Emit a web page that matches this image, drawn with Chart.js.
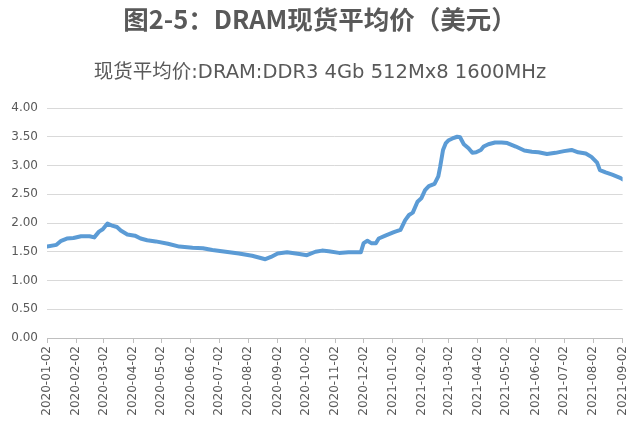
<!DOCTYPE html>
<html>
<head>
<meta charset="utf-8">
<script src="https://cdn.jsdelivr.net/npm/chart.js@4.4.1/dist/chart.umd.min.js"></script>
<style>
  html, body { margin: 0; padding: 0; background: #ffffff; }
  #wrap { width: 640px; height: 425px; position: relative; }
</style>
</head>
<body>
<div id="wrap"><canvas id="c" width="640" height="425"></canvas></div>
<script>
const chartTitle = '图2-5：DRAM现货平均价（美元）';
const seriesName = '现货平均价:DRAM:DDR3 4Gb 512Mx8 1600MHz';

const dates = [
  '2020-01-02','2020-01-12','2020-01-17','2020-01-23','2020-01-30','2020-02-07','2020-02-16','2020-02-21','2020-02-26','2020-03-01',
  '2020-03-06','2020-03-10','2020-03-16','2020-03-20','2020-03-27','2020-04-04','2020-04-10','2020-04-17','2020-04-26','2020-05-09',
  '2020-05-21','2020-06-04','2020-06-15','2020-06-25','2020-07-09','2020-07-23','2020-08-06','2020-08-13','2020-08-20','2020-08-26',
  '2020-09-02','2020-09-12','2020-09-25','2020-10-03','2020-10-12','2020-10-19','2020-10-26','2020-11-06','2020-11-16','2020-11-29',
  '2020-12-02','2020-12-06','2020-12-10','2020-12-15','2020-12-18','2020-12-25','2021-01-03','2021-01-10','2021-01-15','2021-01-19',
  '2021-01-23','2021-01-28','2021-02-01','2021-02-05','2021-02-09','2021-02-15','2021-02-19','2021-02-21','2021-02-24','2021-02-27',
  '2021-03-02','2021-03-06','2021-03-11','2021-03-14','2021-03-18','2021-03-23','2021-03-27','2021-03-31','2021-04-05','2021-04-08',
  '2021-04-13','2021-04-20','2021-04-27','2021-05-03','2021-05-12','2021-05-21','2021-05-29','2021-06-05','2021-06-14','2021-06-23',
  '2021-07-02','2021-07-10','2021-07-17','2021-07-25','2021-07-31','2021-08-06','2021-08-09','2021-08-15','2021-08-22','2021-08-31',
  '2021-09-02'
];
const prices = [
  1.59,1.62,1.69,1.73,1.74,1.77,1.77,1.75,1.85,1.89,
  1.99,1.96,1.93,1.87,1.80,1.78,1.73,1.70,1.68,1.64,
  1.59,1.57,1.56,1.53,1.50,1.47,1.43,1.40,1.37,1.41,
  1.47,1.49,1.46,1.44,1.50,1.52,1.51,1.48,1.49,1.49,
  1.65,1.69,1.65,1.65,1.73,1.78,1.84,1.88,2.05,2.14,
  2.18,2.37,2.43,2.57,2.64,2.68,2.81,2.98,3.27,3.39,
  3.44,3.47,3.50,3.49,3.37,3.30,3.22,3.23,3.27,3.33,
  3.37,3.40,3.40,3.39,3.33,3.26,3.24,3.23,3.20,3.22,
  3.25,3.27,3.23,3.21,3.15,3.05,2.92,2.88,2.84,2.78,
  2.76
];
const tickLabels = [
  '2020-01-02','2020-02-02','2020-03-02','2020-04-02','2020-05-02','2020-06-02','2020-07-02',
  '2020-08-02','2020-09-02','2020-10-02','2020-11-02','2020-12-02','2021-01-02','2021-02-02',
  '2021-03-02','2021-04-02','2021-05-02','2021-06-02','2021-07-02','2021-08-02','2021-09-02'
];
const yTicks = [0, 0.5, 1, 1.5, 2, 2.5, 3, 3.5, 4];

const DAY = 86400000;
const t0 = Date.parse(tickLabels[0] + 'T00:00:00Z');
const dayOf = s => Math.round((Date.parse(s + 'T00:00:00Z') - t0) / DAY);
const points = dates.map((d, i) => ({ x: dayOf(d), y: prices[i] }));
const tickPos = tickLabels.map(dayOf);

const textColor = '#595959';

// Center title/subtitle on the full canvas width (not the padded layout width)
const centerTitles = {
  id: 'centerTitles',
  afterLayout(chart) {
    chart.boxes.forEach(b => {
      if (b.options && typeof b.options.text === 'string' && b.options.position === 'top') {
        b.left = 0; b.right = chart.width; b.width = chart.width;
      }
    });
  }
};

new Chart(document.getElementById('c'), {
  type: 'line',
  data: {
    datasets: [{
      label: seriesName,
      data: points,
      borderColor: '#5B9BD5',
      backgroundColor: '#5B9BD5',
      borderWidth: 4,
      pointRadius: 0,
      tension: 0,
      borderCapStyle: 'round',
      borderJoinStyle: 'round'
    }]
  },
  plugins: [centerTitles],
  options: {
    responsive: false,
    animation: false,
    layout: { padding: { left: 0, right: 16, top: 0, bottom: 0 } },
    plugins: {
      legend: { display: false },
      tooltip: { enabled: false },
      title: {
        display: true,
        text: chartTitle,
        color: textColor,
        font: { family: '"Noto Sans CJK SC", "Noto Sans", sans-serif', size: 25.5, weight: 'bold' },
        padding: { top: 4, bottom: 0 }
      },
      subtitle: {
        display: true,
        text: seriesName,
        color: textColor,
        font: { family: '"DejaVu Sans", "Noto Sans CJK SC", sans-serif', size: 19.5, weight: 'normal' },
        padding: { top: 27, bottom: 23 }
      }
    },
    scales: {
      x: {
        type: 'linear',
        min: tickPos[0],
        max: tickPos[tickPos.length - 1],
        afterBuildTicks: scale => { scale.ticks = tickPos.map(v => ({ value: v })); },
        afterFit: scale => { scale.height = 87; },
        ticks: {
          autoSkip: false,
          maxRotation: 90,
          minRotation: 90,
          padding: 3,
          color: textColor,
          font: { family: '"DejaVu Sans", sans-serif', size: 12 },
          callback: v => { const i = tickPos.indexOf(v); return i >= 0 ? tickLabels[i] : ''; }
        },
        grid: { drawOnChartArea: false, drawTicks: true, tickLength: 5, color: '#bfbfbf' },
        border: { display: true, color: '#bfbfbf', width: 1 }
      },
      y: {
        min: 0,
        max: 4,
        afterBuildTicks: scale => { scale.ticks = yTicks.map(v => ({ value: v })); },
        afterFit: scale => { scale.width = 47; },
        ticks: {
          padding: 9,
          color: textColor,
          font: { family: '"DejaVu Sans", sans-serif', size: 12 },
          callback: v => Number(v).toFixed(2)
        },
        grid: { color: '#d9d9d9', lineWidth: 1, drawTicks: false },
        border: { display: false }
      }
    }
  }
});
</script>
</body>
</html>
